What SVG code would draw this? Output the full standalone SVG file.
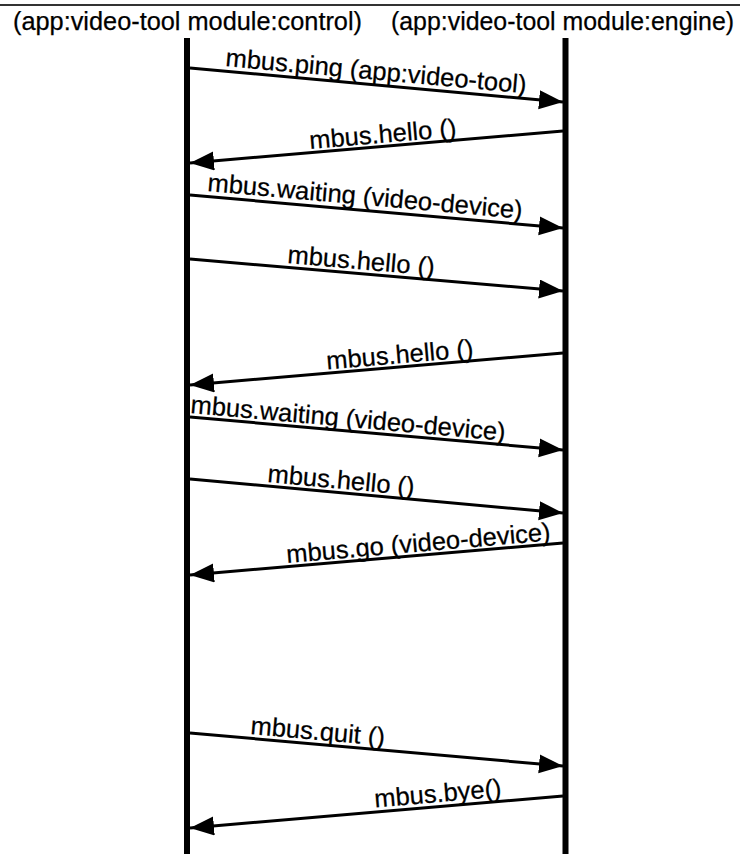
<svg xmlns="http://www.w3.org/2000/svg" width="740" height="854" viewBox="0 0 740 854">
<defs>
<marker id="ah" markerUnits="userSpaceOnUse" markerWidth="26" markerHeight="20" refX="24" refY="9.5" orient="auto">
<path d="M0,0 L24,9.5 L0,19 Z" fill="#000"/>
</marker>
<style>
text{font-family:"Liberation Sans",Arial,sans-serif;font-size:25.5px;fill:#000;stroke:#000;stroke-width:0.25}
.life{stroke:#000;stroke-width:6;fill:none}
.msg{stroke:#000;stroke-width:3;fill:none;marker-end:url(#ah)}
</style>
</defs>
<rect width="740" height="854" fill="#fff"/>
<line x1="0" y1="5" x2="740" y2="5" stroke="#333" stroke-width="2"/>
<g id="control">
<text x="13" y="30" textLength="349" lengthAdjust="spacingAndGlyphs">(app:video-tool module:control)</text>
<line class="life" x1="187" y1="38" x2="187" y2="854"/>
</g>
<g id="engine">
<text x="391" y="30" textLength="343" lengthAdjust="spacingAndGlyphs">(app:video-tool module:engine)</text>
<line class="life" x1="565.5" y1="38" x2="565.5" y2="854"/>
</g>
<g id="connectors">
<line class="msg" x1="190" y1="68" x2="563" y2="102"/>
<line class="msg" x1="563" y1="131" x2="190" y2="163"/>
<line class="msg" x1="190" y1="195" x2="563" y2="228"/>
<line class="msg" x1="190" y1="259" x2="563" y2="291"/>
<line class="msg" x1="563" y1="353" x2="190" y2="385"/>
<line class="msg" x1="190" y1="417" x2="563" y2="450"/>
<line class="msg" x1="190" y1="479" x2="563" y2="513"/>
<line class="msg" x1="563" y1="543" x2="190" y2="575"/>
<line class="msg" x1="190" y1="733" x2="563" y2="766"/>
<line class="msg" x1="563" y1="796" x2="190" y2="828"/>
</g>
<g id="labels">
<text transform="translate(225,66) rotate(5.2)">mbus.ping (app:video-tool)</text>
<text transform="translate(310,149) rotate(-4.9)">mbus.hello ()</text>
<text transform="translate(207,191) rotate(5.05)">mbus.waiting (video-device)</text>
<text transform="translate(287,263) rotate(4.9)">mbus.hello ()</text>
<text transform="translate(327,369.5) rotate(-4.9)">mbus.hello ()</text>
<text transform="translate(190,413) rotate(5.05)">mbus.waiting (video-device)</text>
<text transform="translate(267,482) rotate(5.2)">mbus.hello ()</text>
<text transform="translate(287,563) rotate(-4.9)">mbus.go (video-device)</text>
<text transform="translate(250,734) rotate(5.05)">mbus.quit ()</text>
<text transform="translate(375,807.5) rotate(-4.9)">mbus.bye()</text>
</g>
</svg>
